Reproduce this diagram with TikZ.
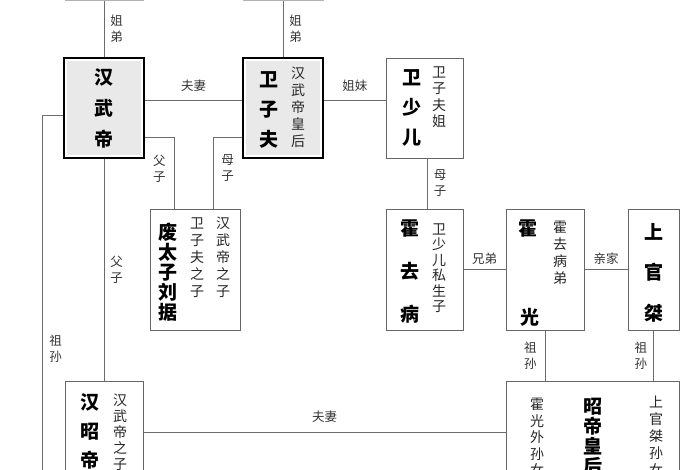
\documentclass[tikz,border=0pt]{standalone}
\usepackage{fontspec}
\setmainfont{Noto Sans CJK SC}

\begin{document}
\begin{tikzpicture}[x=1pt,y=-1pt,
    link/.style={draw=gray!85!black, line width=0.8pt},
    person/.style={draw=gray!80!black, line width=0.9pt, fill=white, inner sep=0pt},
    ruler/.style={draw=black, line width=2.4pt, fill=white, inner sep=0pt,
      path picture={\fill[gray!17] ([shift={(2.6pt,-2.6pt)}]path picture bounding box.north west)
        rectangle ([shift={(-2.6pt,2.6pt)}]path picture bounding box.south east);}},
    who/.style={font=\bfseries\fontsize{19}{#1}\selectfont, align=center, inner sep=0pt},
    memo/.style={font=\fontsize{14}{#1}\selectfont, align=center, inner sep=0pt, text=black!85},
    tie/.style={font=\fontsize{12.5}{16}\selectfont, align=center, inner sep=0pt, text=black!80}]
    \useasboundingbox (0,0) rectangle (700,470);
    \clip (0,0) rectangle (700,470);
    % boxes
    \node[person, draw=gray!60, minimum width=78, minimum height=60, anchor=south] (topL) at (104,1) {};
    \node[person, draw=gray!60, minimum width=80, minimum height=60, anchor=south] (topR) at (283,1) {};
    \node[ruler, minimum width=80, minimum height=100] (wudi) at (104,108) {};
    \node[ruler, minimum width=80, minimum height=100] (zifu) at (283,108) {};
    \node[person, minimum width=77, minimum height=100] (shaoer) at (424.5,108) {};
    \node[person, minimum width=77, minimum height=121] (qubing) at (424.5,269.5) {};
    \node[person, minimum width=78, minimum height=121] (guang) at (545,269.5) {};
    \node[person, minimum width=51, minimum height=121] (jie) at (653.5,269.5) {};
    \node[person, minimum width=90, minimum height=121] (liuju) at (195,269.5) {};
    \node[person, minimum width=78, minimum height=130, anchor=north] (zhaodi) at (104,381) {};
    \node[person, minimum width=173, minimum height=130, anchor=north] (hou) at (592.5,381) {};
    \coordinate (zuend) at (42,480);
    % connectors
    \draw[link] (topL) -- node[tie, right=6pt] {姐\\弟} (wudi);
    \draw[link] (topR) -- node[tie, right=6pt] {姐\\弟} (zifu);
    \draw[link] ([yshift=8pt]wudi.east) -- node[tie, above=8pt] {夫妻} ([yshift=8pt]zifu.west);
    \draw[link] ([yshift=8pt]zifu.east) -- node[tie, above=8pt] {姐妹} ([yshift=8pt]shaoer.west);
    \draw[link] ([xshift=3pt]shaoer.south) -- node[tie, right=6pt] {母\\子} ([xshift=3pt]qubing.north);
    \draw[link] (qubing) -- node[tie, above=5pt] {兄弟} (guang);
    \draw[link] (guang) -- node[tie, above=5pt] {亲家} (jie);
    \draw[link] (guang.south) -- node[tie, left=8pt] {祖\\孙} (guang.south |- hou.north);
    \draw[link] (jie.south) -- node[tie, left=6pt] {祖\\孙} (jie.south |- hou.north);
    \draw[link] (wudi) -- node[tie, right=6pt] {父\\子} (zhaodi);
    \draw[link] ([yshift=-29pt]wudi.east) -| node[tie, pos=0.72, left=8pt] {父\\子} ([xshift=-21pt]liuju.north);
    \draw[link] ([yshift=-29pt]zifu.west) -| node[tie, pos=0.72, right=8pt] {母\\子} ([xshift=18pt]liuju.north);
    \draw[link] ([yshift=-7pt]wudi.west) -| node[tie, pos=0.82, right=7pt] {祖\\孙} (zuend);
    \draw[link] ([yshift=14pt]zhaodi.east) -- node[tie, above=10pt] {夫妻} ([yshift=14pt]hou.west);
    % names and notes
    \node[who=31] (wudiname) at (104,108.5) {汉\\武\\帝};
    \node[who=30] (zifuname) at (269,110) {卫\\子\\夫};
    \node[memo=17] (zifunote) at (298,107) {汉\\武\\帝\\皇\\后};
    \node[who=30] (shaoername) at (412,107.5) {卫\\少\\儿};
    \node[memo=16.5] (shaoernote) at (439,97) {卫\\子\\夫\\姐};
    \node[who=43] (qubingname) at (410,272) {霍\\去\\病};
    \node[memo=15.5] (qubingnote) at (439,268) {卫\\少\\儿\\私\\生\\子};
    \node[who=19] (guangtop) at (528,229) {霍};
    \node[who=19] (guangbot) at (530,317) {光};
    \node[memo=17] (guangnote) at (560,252.5) {霍\\去\\病\\弟};
    \node[who=40.5] (jiename) at (653.5,272.5) {上\\官\\桀};
    \node[who=20] (liujuname) at (168,272) {废\\太\\子\\刘\\据};
    \node[memo=17] (liujunote) at (197,257.5) {卫\\子\\夫\\之\\子};
    \node[memo=17] (liujufather) at (223,257) {汉\\武\\帝\\之\\子};
    \node[who=29] (zhaodiname) at (90,431) {汉\\昭\\帝};
    \node[memo=16] (zhaodinote) at (120,432) {汉\\武\\帝\\之\\子};
    \node[memo=16.5] (houleft) at (537,437.5) {霍\\光\\外\\孙\\女};
    \node[who=20] (houname) at (593,437) {昭\\帝\\皇\\后};
    \node[memo=17] (houright) at (656,436) {上\\官\\桀\\孙\\女};
\end{tikzpicture}
\end{document}
